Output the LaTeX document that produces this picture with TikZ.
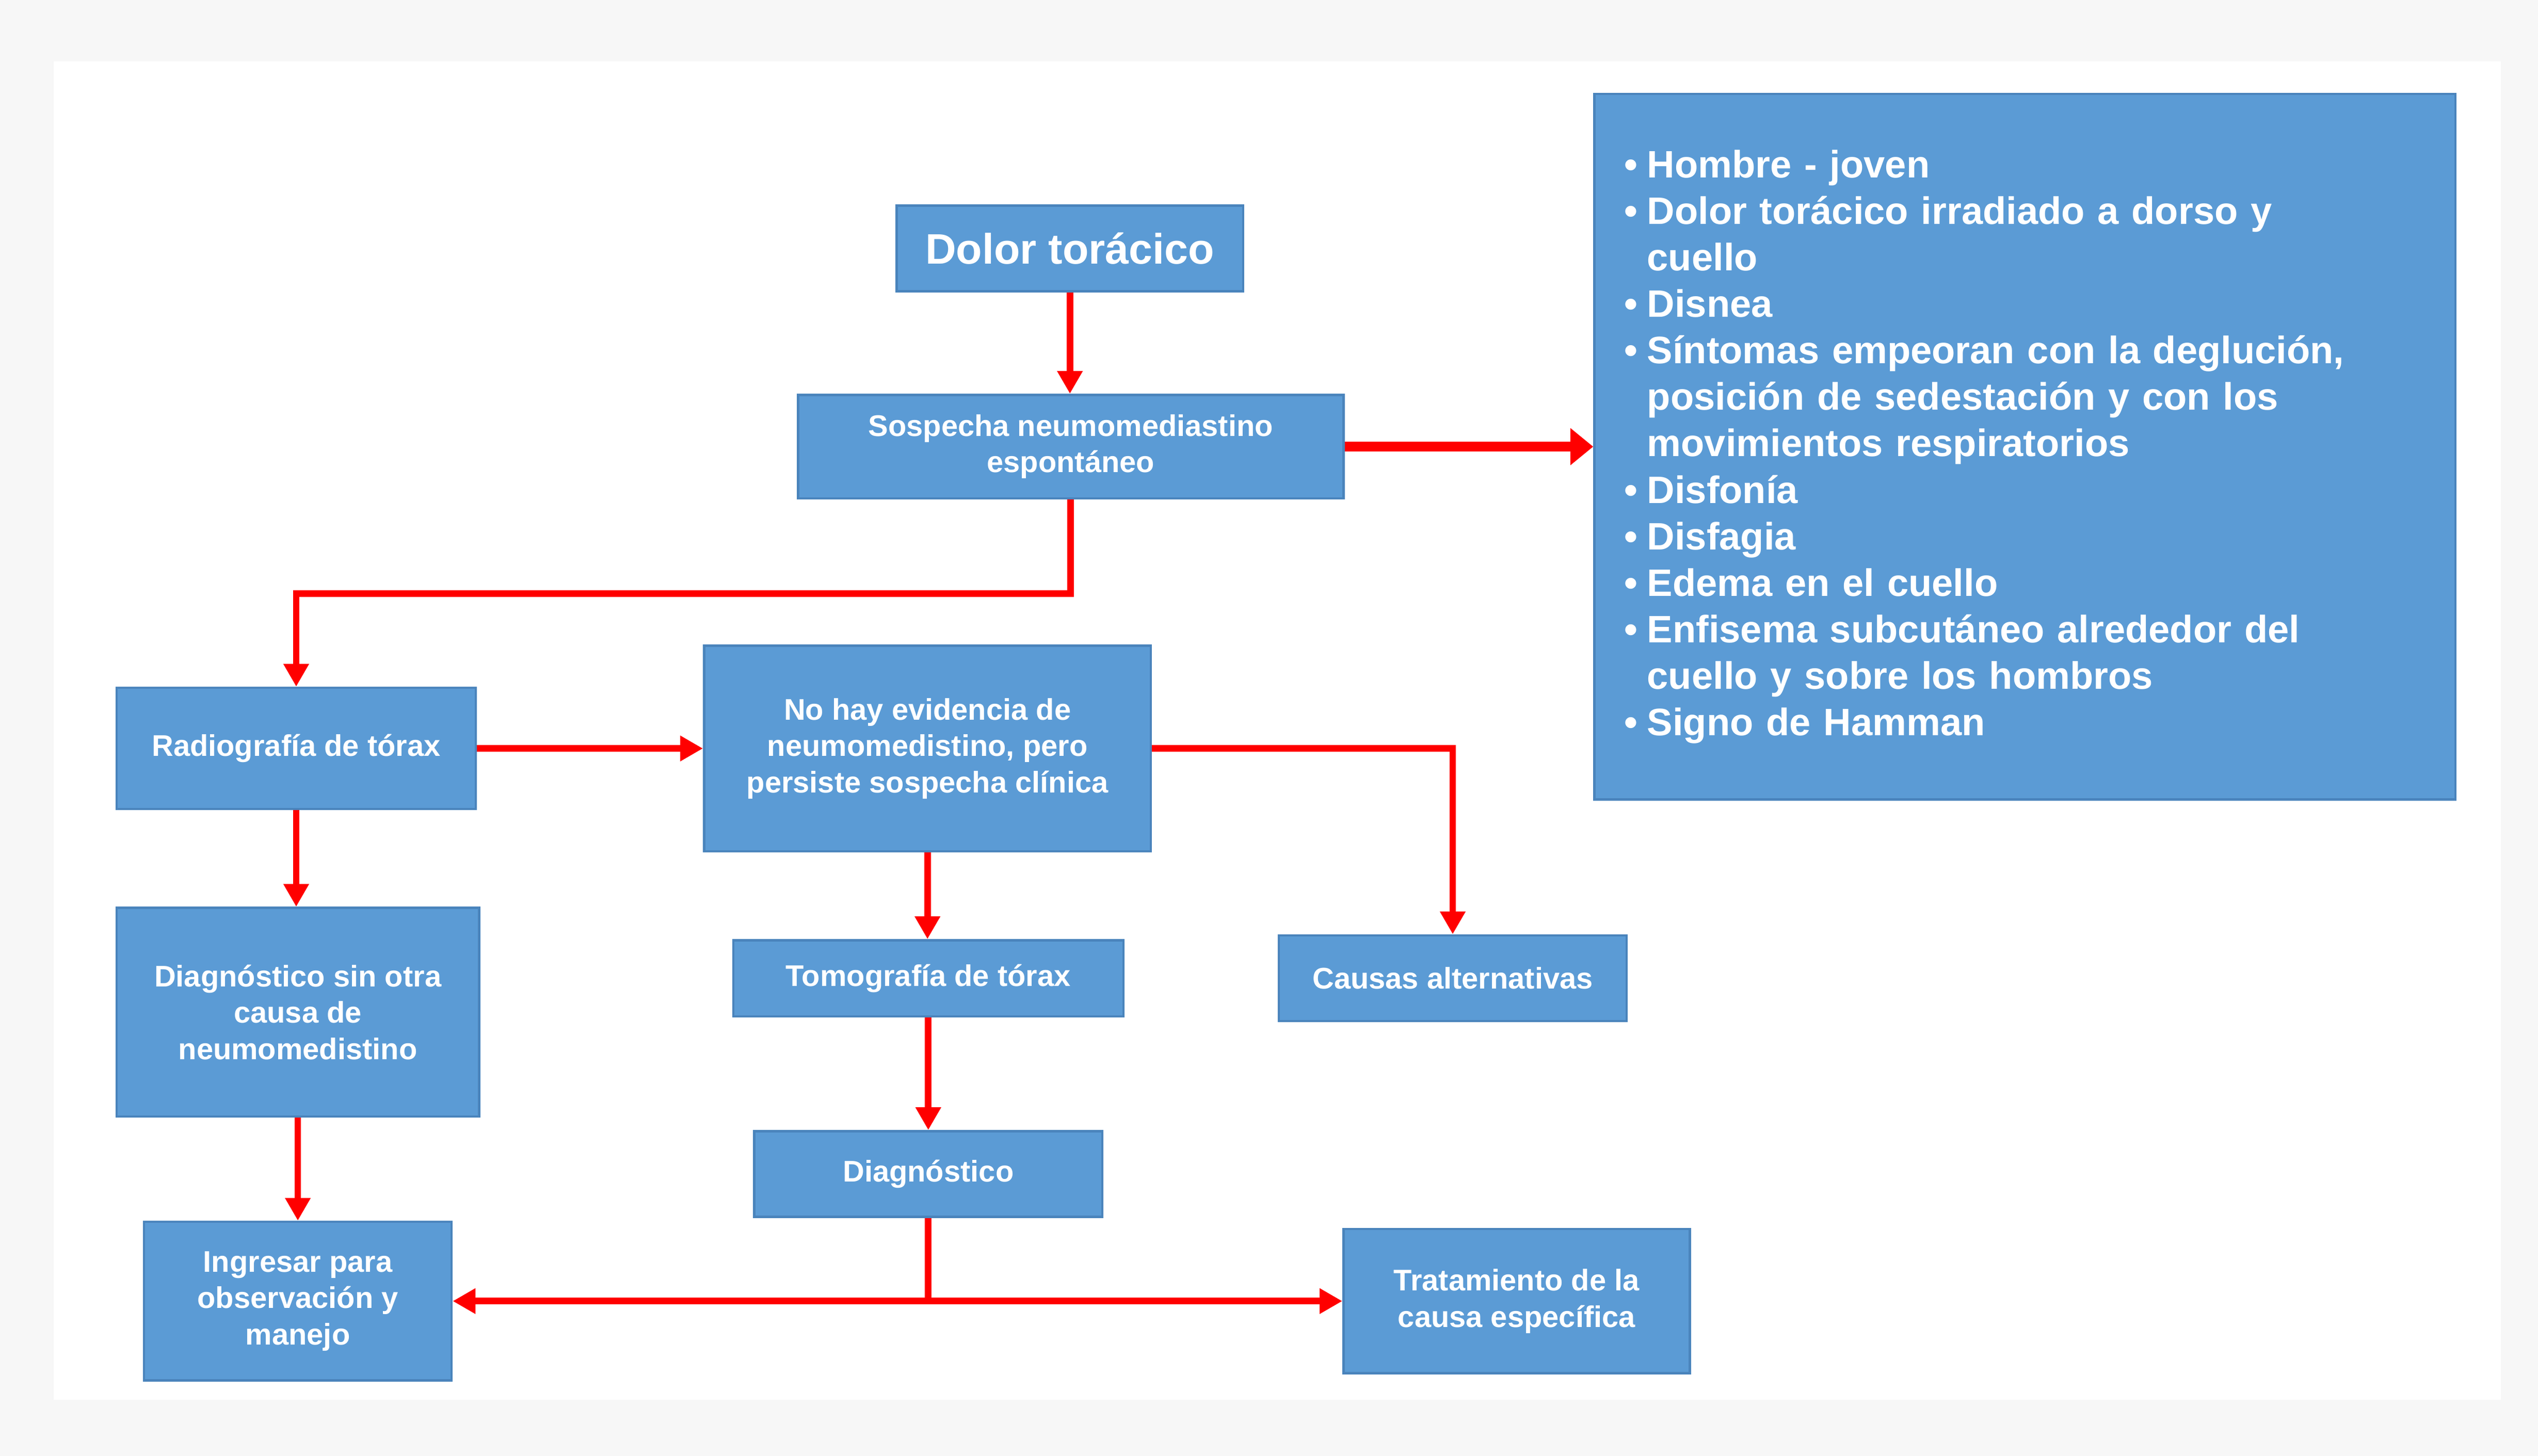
\documentclass[tikz,border=0pt]{standalone}
\usepackage{fontspec}
\setmainfont{Liberation Sans}
\usetikzlibrary{arrows.meta}
\definecolor{cajaazul}{HTML}{5B9BD5}
\definecolor{bordeazul}{HTML}{4A84BC}
\definecolor{flecharoja}{HTML}{FF0000}
\definecolor{fondogris}{HTML}{F7F7F7}
\tikzset{
        caja/.style={
            draw=bordeazul, line width=0.8pt, fill=cajaazul, text=white,
            font=\bfseries\fontsize{10.5}{12.8}\selectfont,
            align=center, inner sep=0pt,
        },
        tam/.style 2 args={minimum width=#1*0.02cm, minimum height=#2*0.02cm},
    }
\newcommand{\vineta}[1]{\par\hangindent=8pt\hangafter=1\noindent\makebox[8pt][l]{\textbullet}#1}
\newcommand{\salto}{\hfil\break}

\begin{document}
\begin{tikzpicture}[
          x=0.02cm, y=-0.02cm,
          flecha/.style = {draw=flecharoja, line width=2.3pt, -{Triangle[length=8pt,width=8.5pt]}},
          flechagruesa/.style = {flecha, line width=3.4pt, -{Triangle[length=8pt,width=12.5pt]}}
          ]
 \fill[fondogris] (0,0) rectangle (1568,899.7);
 \fill[white] (33,38) rectangle (1545,865);
 \useasboundingbox (0,0) rectangle (1568,899.7);
          \node[caja,tam={214}{53},font=\bfseries\fontsize{15}{18}\selectfont] (@dolor) at (661,153.5) {Dolor torácico};
          \node[caja,tam={337}{64}] (@sosp) at (661.5,276) {Sospecha neumomediastino\\espontáneo};
          \node[caja,tam={532}{436},text width=9.9cm,align=left,font=\bfseries\fontsize{13.45}{16.35}\selectfont] (@sintomas) at (1251,276) {%
            \vineta{Hombre - joven}
            \vineta{Dolor torácico irradiado a dorso y\salto cuello}
            \vineta{Disnea}
            \vineta{Síntomas empeoran con la deglución,\salto posición de sedestación y con los\salto movimientos respiratorios}
            \vineta{Disfonía}
            \vineta{Disfagia}
            \vineta{Edema en el cuello}
            \vineta{Enfisema subcutáneo alrededor del\salto cuello y sobre los hombros}
            \vineta{Signo de Hamman}\par\vspace{6.5pt}};
          \node[caja,tam={222}{75}] (@radio) at (183,462.5) {Radiografía de tórax};
          \node[caja,tam={276}{127}] (@nohay) at (573,462.5) {No hay evidencia de\\neumomedistino, pero\\persiste sospecha clínica};
          \node[caja,tam={224}{129}] (@diagsin) at (184,625.5) {Diagnóstico sin otra\\causa de\\neumomedistino};
          \node[caja,tam={241}{47}] (@tomo) at (573.5,604.5) {Tomografía de tórax};
          \node[caja,tam={215}{53}] (@causas) at (897.5,604.5) {Causas alternativas};
          \node[caja,tam={215}{53}] (@diag) at (573.5,725.5) {Diagnóstico};
          \node[caja,tam={190}{98}] (@ingresar) at (184,804) {Ingresar para\\observación y\\manejo};
          \node[caja,tam={214}{89}] (@trat) at (937,804) {Tratamiento de la\\causa específica};
          \draw[flecha] (@dolor.south) -- (@dolor.south |- @sosp.north);
          \draw[flechagruesa] (@sosp.east) -- (@sintomas.west);
          \draw[flecha] (@sosp.south) -- ++(0,58) -| (@radio.north);
          \draw[flecha] (@radio.east) -- (@nohay.west);
          \draw[flecha] (@nohay.east) -| (@causas.north);
          \draw[flecha] (@nohay.south) -- (@nohay.south |- @tomo.north);
          \draw[flecha] (@radio.south) -- (@radio.south |- @diagsin.north);
          \draw[flecha] (@tomo.south) -- (@tomo.south |- @diag.north);
          \draw[flecha] (@diagsin.south) -- (@ingresar.north);
          \draw[flecha] (@diag.south) |- (@ingresar.east);
          \draw[flecha] (@diag.south) |- (@trat.west);
        \end{tikzpicture}
\end{document}
